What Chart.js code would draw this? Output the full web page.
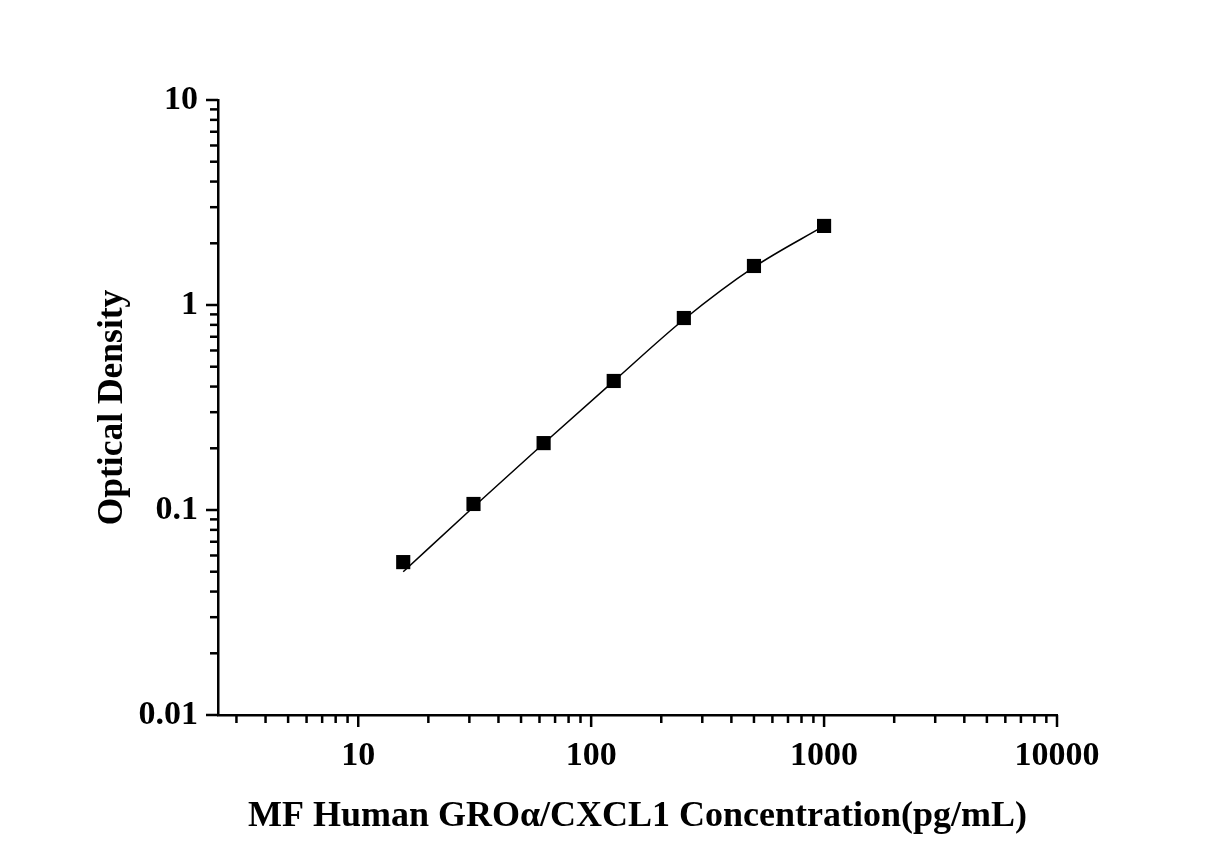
<!DOCTYPE html>
<html>
<head>
<meta charset="utf-8">
<script src="https://cdn.jsdelivr.net/npm/chart.js@4.4.1/dist/chart.umd.min.js"></script>
<style>
  html, body { margin: 0; padding: 0; background: #fff; }
  #wrap { width: 1227px; height: 858px; }
</style>
</head>
<body>
<div id="wrap"><canvas id="curve" width="1227" height="858"></canvas></div>
<script>
// standard concentrations (pg/mL) and measured OD
const concentrations = [15.6, 31.25, 62.5, 125, 250, 500, 1000]
const opticalDensity = [0.0557, 0.107, 0.212, 0.426, 0.864, 1.55, 2.43]
// fitted curve through the standards
const fittedDensity = [0.050, 0.1035, 0.211, 0.425, 0.85, 1.53, 2.43]

const xTicks = [10, 100, 1000, 10000]
const yTicks = [0.01, 0.1, 1, 10]

const serif = 'Liberation Serif'

// draws log ticks (major + minor) outward from the axis lines
const logTicks = {
  id: 'logTicks',
  afterDraw (chart) {
    const ctx = chart.ctx
    const area = chart.chartArea
    ctx.save()
    ctx.strokeStyle = '#000'
    ctx.lineWidth = 2.5
    for (const id of ['x', 'y']) {
      const scale = chart.scales[id]
      const lo = Math.floor(Math.log10(scale.min))
      const hi = Math.ceil(Math.log10(scale.max))
      for (let e = lo; e <= hi; e++) {
        for (let m = 1; m <= 9; m++) {
          const v = m * Math.pow(10, e)
          if (v < scale.min * 0.999 || v > scale.max * 1.001) continue
          const len = m === 1 ? 12 : 8
          const p = scale.getPixelForValue(v)
          ctx.beginPath()
          if (id === 'x') {
            ctx.moveTo(p, area.bottom)
            ctx.lineTo(p, area.bottom + len)
          } else {
            ctx.moveTo(area.left, p)
            ctx.lineTo(area.left - len, p)
          }
          ctx.stroke()
        }
      }
    }
    ctx.restore()
  }
}

const ctx2d = document.getElementById('curve').getContext('2d')
const chart = new Chart(ctx2d, {
  type: 'scatter',
  data: {
    datasets: [
      {
        label: 'Fit',
        data: concentrations.map((c, i) => ({ x: c, y: fittedDensity[i] })),
        showLine: true,
        borderColor: '#000',
        borderWidth: 1.5,
        pointRadius: 0,
        cubicInterpolationMode: 'monotone'
      },
      {
        label: 'Standards',
        data: concentrations.map((c, i) => ({ x: c, y: opticalDensity[i] })),
        pointStyle: 'rect',
        pointRadius: 10,
        pointBackgroundColor: '#000',
        pointBorderColor: '#000',
        pointBorderWidth: 0
      }
    ]
  },
  options: {
    responsive: false,
    animation: false,
    layout: { padding: { top: 100, right: 170, left: 0, bottom: 0 } },
    plugins: {
      legend: { display: false },
      tooltip: { enabled: false }
    },
    scales: {
      x: {
        type: 'logarithmic',
        min: 2.5,
        max: 10000,
        afterFit (scale) { scale.height = 143 },
        afterBuildTicks (scale) { scale.ticks = xTicks.map(v => ({ value: v })) },
        grid: { display: false, drawTicks: false },
        border: { display: true, color: '#000', width: 2.5 },
        ticks: {
          color: '#000',
          padding: 21,
          maxRotation: 0,
          autoSkip: false,
          font: { family: serif, size: 34, weight: 'bold' },
          callback: v => String(v)
        },
        title: {
          display: true,
          text: 'MF Human GROα/CXCL1 Concentration(pg/mL)',
          color: '#000',
          padding: 20,
          font: { family: serif, size: 36, weight: 'bold' }
        }
      },
      y: {
        type: 'logarithmic',
        min: 0.01,
        max: 10,
        afterFit (scale) { scale.width = 218 },
        afterBuildTicks (scale) { scale.ticks = yTicks.map(v => ({ value: v })) },
        grid: { display: false, drawTicks: false },
        border: { display: true, color: '#000', width: 2.5 },
        ticks: {
          color: '#000',
          padding: 20,
          autoSkip: false,
          font: { family: serif, size: 34, weight: 'bold' },
          callback: v => String(v)
        },
        title: {
          display: true,
          text: 'Optical Density',
          color: '#000',
          padding: 92,
          font: { family: serif, size: 35.5, weight: 'bold' }
        }
      }
    }
  },
  plugins: [logTicks]
})
</script>
</body>
</html>
